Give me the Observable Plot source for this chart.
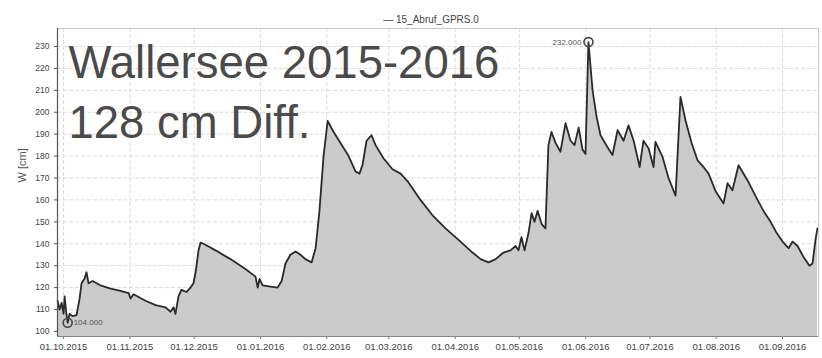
<!DOCTYPE html>
<html><head><meta charset="utf-8">
<script src="https://cdn.jsdelivr.net/npm/d3@7"></script>
<script src="https://cdn.jsdelivr.net/npm/@observablehq/plot@0.6"></script>
<style>body{margin:0;background:#fff;}</style>
</head><body><div id="chart"></div>
<script>
const dates = [
"2015-09-28T05:00","2015-09-29T03:00","2015-09-30T02:00","2015-10-01T00:00","2015-10-01T12:00","2015-10-02T05:00","2015-10-02T22:00","2015-10-03T19:00","2015-10-05T05:00","2015-10-07T02:00",
"2015-10-08T12:00","2015-10-09T10:00","2015-10-10T19:00","2015-10-11T17:00","2015-10-12T16:00","2015-10-14T14:00","2015-10-18T07:00","2015-10-23T00:00","2015-10-27T15:00","2015-10-31T10:00",
"2015-11-01T07:00","2015-11-02T17:00","2015-11-08T07:00","2015-11-13T00:00","2015-11-17T16:00","2015-11-20T00:00","2015-11-21T10:00","2015-11-22T07:00","2015-11-23T17:00","2015-11-25T02:00",
"2015-11-27T12:00","2015-11-29T07:00","2015-11-30T17:00","2015-12-01T17:00","2015-12-03T02:00","2015-12-04T00:00","2015-12-05T10:00","2015-12-11T00:00","2015-12-18T00:00","2015-12-25T00:00",
"2015-12-29T17:00","2015-12-30T17:00","2015-12-31T14:00","2016-01-02T00:00","2016-01-05T17:00","2016-01-09T00:00","2016-01-10T22:00","2016-01-12T17:00","2016-01-15T00:00","2016-01-17T10:00",
"2016-01-19T17:00","2016-01-22T00:00","2016-01-24T22:00","2016-01-26T19:00","2016-01-28T14:00","2016-01-30T12:00","2016-02-01T10:00","2016-02-04T05:00","2016-02-07T10:00","2016-02-11T05:00",
"2016-02-14T10:00","2016-02-16T07:00","2016-02-17T17:00","2016-02-19T14:00","2016-02-21T22:00","2016-02-23T19:00","2016-02-27T12:00","2016-03-02T17:00","2016-03-06T12:00","2016-03-10T05:00",
"2016-03-15T19:00","2016-03-21T10:00","2016-03-27T12:00","2016-04-03T12:00","2016-04-09T02:00","2016-04-12T22:00","2016-04-16T14:00","2016-04-19T22:00","2016-04-23T14:00","2016-04-26T22:00",
"2016-04-29T05:00","2016-04-30T14:00","2016-05-02T00:00","2016-05-03T10:00","2016-05-05T07:00","2016-05-06T17:00","2016-05-08T02:00","2016-05-09T12:00","2016-05-11T10:00","2016-05-13T05:00",
"2016-05-14T14:00","2016-05-16T00:00","2016-05-17T22:00","2016-05-20T05:00","2016-05-22T14:00","2016-05-24T22:00","2016-05-26T19:00","2016-05-28T17:00","2016-05-30T12:00","2016-05-31T22:00",
"2016-06-02T07:00","2016-06-04T05:00","2016-06-06T02:00","2016-06-07T22:00","2016-06-11T05:00","2016-06-13T12:00","2016-06-15T22:00","2016-06-18T17:00","2016-06-21T00:00","2016-06-23T10:00",
"2016-06-26T05:00","2016-06-28T00:00","2016-06-30T10:00","2016-07-02T17:00","2016-07-03T14:00","2016-07-06T22:00","2016-07-09T17:00","2016-07-13T00:00","2016-07-15T07:00","2016-07-17T17:00",
"2016-07-20T12:00","2016-07-23T07:00","2016-07-26T02:00","2016-07-28T10:00","2016-07-31T17:00","2016-08-04T10:00","2016-08-06T07:00","2016-08-08T14:00","2016-08-11T10:00","2016-08-15T14:00",
"2016-08-20T07:00","2016-08-23T02:00","2016-08-26T10:00","2016-08-29T05:00","2016-09-01T00:00","2016-09-03T19:00","2016-09-05T17:00","2016-09-08T00:00","2016-09-10T19:00","2016-09-13T14:00",
"2016-09-15T00:00","2016-09-16T10:00","2016-09-17T07:00"
];
const levels = [
114,110,113,108,116,109,104,108,107,107.5,
115,122,124,127,122,123,121,119.5,118.5,117.5,
115,117,114,112,111,109,111,108,116,119,
118,120,122,127,137,140.5,140,137,133,128.5,
125,120,124,121,120.5,120,123,131,135,136.5,
135,133,131.5,138,155,180,196,191,186,180,
173,172,176,187,189.5,185,179,174,172,168,
160,153,147,141,136,133,131.5,133,136,137,
139,137,143,137,145,154,150,155,149,147,
185,191,186,182,195,187,185,193,183,181,
232,210,198,189.5,184,180.5,191.8,187,194,187,
175,187,183.5,175,186.5,179.6,170,162,207,196,
186,178,175,172,164,158.4,167.6,164.4,175.8,169,
160,155,150,145,141,138,141,139,134,130,
131,142,147
];
const tickDates = ["2015-10-01","2015-11-01","2015-12-01","2016-01-01","2016-02-01","2016-03-01","2016-04-01","2016-05-01","2016-06-01","2016-07-01","2016-08-01","2016-09-01"];
const tickLabels = ["01.10.2015","01.11.2015","01.12.2015","01.01.2016","01.02.2016","01.03.2016","01.04.2016","01.05.2016","01.06.2016","01.07.2016","01.08.2016","01.09.2016"];
const yTicks = [100,110,120,130,140,150,160,170,180,190,200,210,220,230];
const yDomain = [97.7, 238.2];
const xDomain = ["2015-09-28T04:00","2016-09-17T19:00"];
const seriesName = "15_Abruf_GPRS.0";
const yLabel = "W [cm]";
const titleLines = ["Wallersee 2015-2016", "128 cm Diff."];
const extremaLabels = ["232.000", "104.000"];

const utc = s => new Date(s + (s.length === 10 ? "T00:00Z" : "Z"));
const data = dates.map((d, i) => ({date: utc(d), value: levels[i]}));
const ticks = tickDates.map(utc);
const labelMap = new Map(ticks.map((t, i) => [+t, tickLabels[i]]));
const maxPt = d3.greatest(data, d => d.value);
const minPt = d3.least(data, d => d.value);
const font = "'Liberation Sans', Arial, sans-serif";

const plot = Plot.plot({
  width: 822, height: 358,
  marginTop: 28, marginLeft: 57, marginRight: 4, marginBottom: 22,
  style: {fontFamily: font, background: "#fff", overflow: "visible"},
  x: {type: "utc", domain: xDomain.map(utc)},
  y: {domain: yDomain},
  marks: [
    Plot.gridY(yTicks, {stroke: "#dcdcdc", strokeOpacity: 1, strokeDasharray: "4,2"}),
    Plot.gridX(ticks, {stroke: "#dcdcdc", strokeOpacity: 1, strokeDasharray: "4,2"}),
    Plot.areaY(data, {x: "date", y1: d => yDomain[0], y2: "value", fill: "#cbcbcb"}),
    Plot.lineY(data, {x: "date", y: "value", stroke: "#2a2a2a", strokeWidth: 1.8}),
    Plot.frame({stroke: "#c8c8c8"}),
    Plot.axisY(yTicks, {tickSize: 3, tickPadding: 5, fontSize: 8.5, fill: "#444", stroke: "#555", label: null}),
    Plot.axisX(ticks, {tickSize: 3, tickPadding: 4, fontSize: 9.5, fill: "#444", stroke: "#777", label: null, tickFormat: d => labelMap.get(+d)}),
    Plot.ruleX([xDomain[0]].map(utc), {stroke: "#555", strokeWidth: 1.2}),
    Plot.ruleY([yDomain[0]], {stroke: "#888", strokeWidth: 1.2}),
    Plot.dot([maxPt, minPt], {x: "date", y: "value", r: 4.5, stroke: "#444", strokeWidth: 1.6, fill: "none"}),
    Plot.text([maxPt], {x: "date", y: "value", text: () => extremaLabels[0], textAnchor: "end", dx: -7, fontSize: 8, fill: "#555"}),
    Plot.text([minPt], {x: "date", y: "value", text: () => extremaLabels[1], textAnchor: "start", dx: 6, fontSize: 8, fill: "#555"}),
    Plot.text([yLabel], {frameAnchor: "left", dx: -35, rotate: -90, fontSize: 11, fill: "#555"}),
    Plot.text(["— " + seriesName], {frameAnchor: "top", dy: -13, dx: -7, fontSize: 10, fill: "#444"}),
    Plot.text([titleLines[0]], {frameAnchor: "top-left", textAnchor: "start", lineAnchor: "top", dx: 11, dy: 17, fontSize: 45.5, fill: "#4a4a4a"}),
    Plot.text([titleLines[1]], {frameAnchor: "top-left", textAnchor: "start", lineAnchor: "top", dx: 11, dy: 77, fontSize: 45.5, fill: "#4a4a4a"})
  ]
});
document.getElementById("chart").appendChild(plot);
</script>
</body></html>
